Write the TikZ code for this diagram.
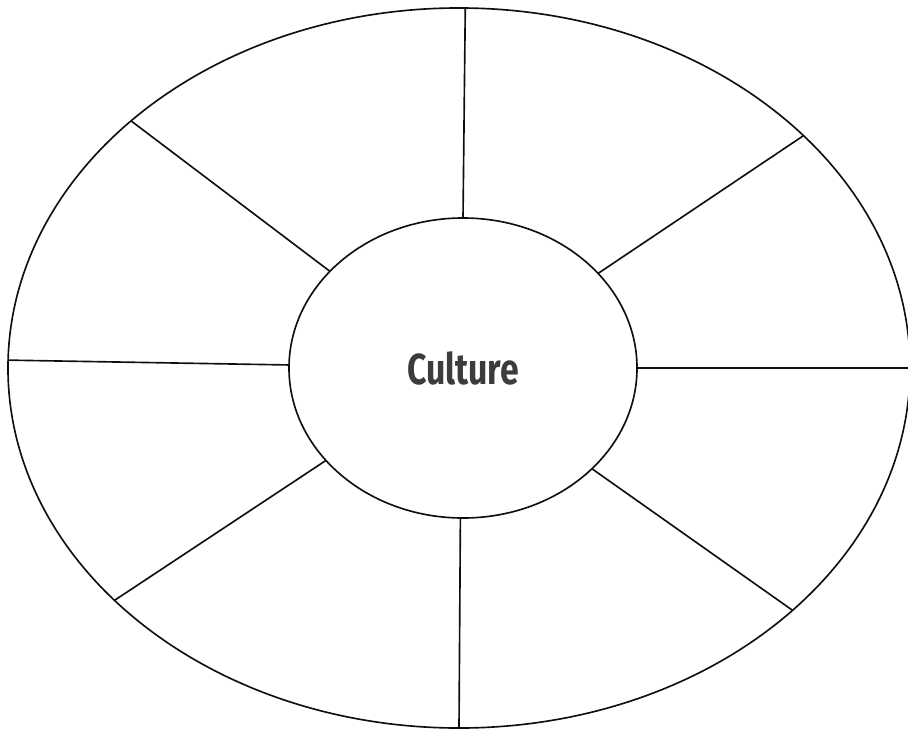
\documentclass[tikz,border=0pt]{standalone}
\usepackage{fontspec}
\setmainfont{Fira Sans}
\usetikzlibrary{shapes.geometric}
\definecolor{wheelInk}{RGB}{15,15,15}
\definecolor{wordInk}{RGB}{60,60,60}
\newcommand{\HubWord}[1]{%
\scalebox{0.78}[1]{\fontsize{37}{40}\selectfont\bfseries #1}}

\begin{document}
\begin{tikzpicture}[x=0.03cm,y=-0.03cm,
  ring/.style={ellipse,draw=wheelInk,line width=1.4pt,inner sep=0pt,outer sep=0pt},
  spoke/.style={draw=wheelInk,line width=1.4pt}]
\useasboundingbox (0,0) rectangle (908,729);
\node[ring,minimum width=27.06cm,minimum height=21.6cm] (rim) at (459,368) {};
\node[ring,fill=white,minimum width=10.44cm,minimum height=9.0cm,text=wordInk] (hub) at (463,368) {\HubWord{Culture}};
\draw[spoke] (hub.90.3) -- (rim.89.3);
\draw[spoke] (hub.35.4) -- (rim.34.5);
\draw[spoke] (hub.-0.7) -- (rim.-0.5);
\draw[spoke] (hub.-38.2) -- (rim.-36.5);
\draw[spoke] (hub.-91.1) -- (rim.-90.3);
\draw[spoke] (hub.214.2) -- (rim.214.9);
\draw[spoke] (hub.179) -- (rim.179);
\draw[spoke] (hub.144.8) -- (rim.143.9);
\end{tikzpicture}
\end{document}
